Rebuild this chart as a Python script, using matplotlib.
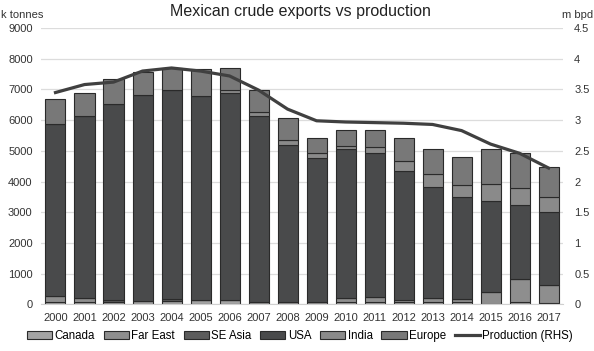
import numpy as np
import matplotlib
matplotlib.use('Agg')
import matplotlib.pyplot as plt
from matplotlib.ticker import FuncFormatter

plt.rcParams['font.family'] = ['Liberation Sans', 'DejaVu Sans']

years = [str(y) for y in range(2000, 2018)]

# export destinations, k tonnes
canada   = [90, 90, 80, 100, 110, 150, 150, 70, 70, 80, 90, 90, 90, 90, 90, 0, 85, 50]
far_east = [170, 100, 0, 0, 0, 0, 0, 0, 0, 0, 100, 150, 60, 100, 70, 410, 730, 570]
se_asia  = [0, 0, 50, 0, 50, 0, 0, 0, 0, 0, 0, 0, 0, 0, 0, 0, 0, 0]
usa      = [5610, 5960, 6385, 6718, 6820, 6635, 6743, 6064, 5116, 4700,
            4858, 4678, 4192, 3621, 3345, 2965, 2410, 2377]
india    = [0, 0, 0, 0, 0, 0, 87, 140, 166, 145, 105, 196, 326, 430, 371, 534, 553, 508]
europe   = [830, 750, 835, 750, 730, 895, 735, 700, 726, 482, 525, 564, 739, 808, 932, 1140, 1140, 958]

# production, m bpd (RHS)
production = [3.45, 3.58, 3.62, 3.80, 3.85, 3.80, 3.72, 3.49, 3.18, 2.99,
              2.97, 2.96, 2.95, 2.93, 2.83, 2.61, 2.46, 2.22]

series = [('Canada', canada, '#a3a3a3'),
          ('Far East', far_east, '#8e8e8e'),
          ('SE Asia', se_asia, '#5c5c5c'),
          ('USA', usa, '#494a4b'),
          ('India', india, '#8a8a8a'),
          ('Europe', europe, '#787878')]

fig = plt.figure(figsize=(5.94, 3.51), dpi=100)
ax = fig.add_axes([0.069, 0.133, 0.879, 0.787])
x = np.arange(len(years))

bottom = np.zeros(len(years))
handles = []
for name, vals, col in series:
    b = ax.bar(x, vals, 0.69, bottom=bottom, color=col, edgecolor='#2a2a2a',
               linewidth=0.8, label=name, zorder=2)
    handles.append(b)
    bottom += np.array(vals)

ax.set_xlim(-0.5, len(years) - 0.5)
ax.set_ylim(0, 9000)
ax.set_yticks(range(0, 9001, 1000))
ax.set_xticks(x)
ax.set_xticklabels(years)
ax.grid(axis='y', color='#dcdcdc', linewidth=0.9, zorder=0)
ax.set_axisbelow(True)
for s in ['top', 'right', 'left']:
    ax.spines[s].set_visible(False)
ax.spines['bottom'].set_color('#d0d0d0')
ax.tick_params(axis='both', length=0, labelsize=8, colors='#333333')
ax.tick_params(axis='x', pad=6)
ax.tick_params(axis='y', pad=6)

ax2 = ax.twinx()
ax2.set_ylim(0, 4.5)
ax2.set_yticks(np.arange(0, 4.51, 0.5))
ax2.yaxis.set_major_formatter(FuncFormatter(lambda v, p: '%g' % v))
line, = ax2.plot(x, production, color='#404040', linewidth=2.3,
                 label='Production (RHS)', zorder=3)
for s in ['top', 'right', 'left', 'bottom']:
    ax2.spines[s].set_visible(False)
ax2.tick_params(axis='y', length=0, labelsize=8, colors='#333333', pad=8)

fig.text(0.505, 0.968, 'Mexican crude exports vs production', ha='center',
         va='center', fontsize=11.5, color='#222222')
fig.text(0.002, 0.958, 'k tonnes', ha='left', va='center', fontsize=8, color='#333333')
fig.text(0.998, 0.958, 'm bpd', ha='right', va='center', fontsize=8, color='#333333')

fig.legend(handles + [line], [s[0] for s in series] + ['Production (RHS)'],
           loc='center', bbox_to_anchor=(0.505, 0.042), ncol=7, frameon=False,
           fontsize=8.3, handlelength=2.2, handleheight=0.65, handletextpad=0.2,
           columnspacing=0.75)

fig.savefig('out.png', dpi=100)
